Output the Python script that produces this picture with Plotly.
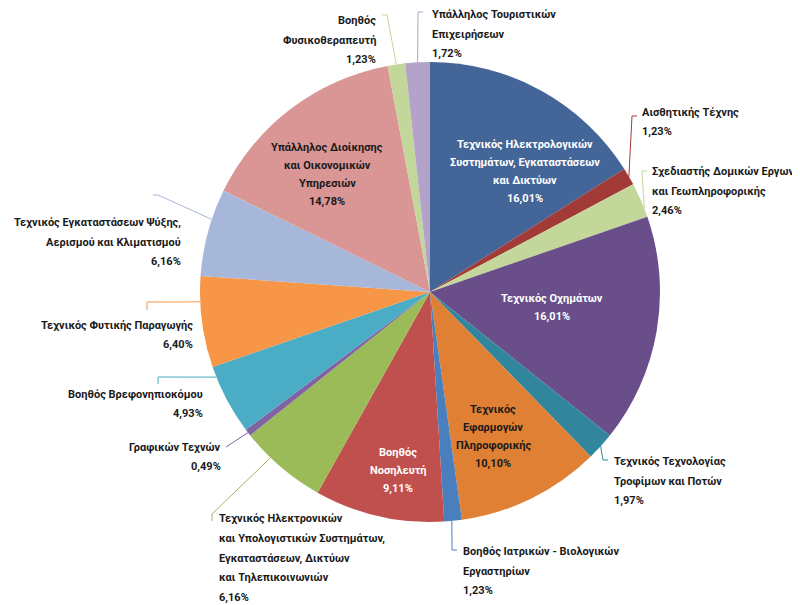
import math
import plotly.graph_objects as go

# ---- data ----
categories = [
    "Τεχνικός Ηλεκτρολογικών<br>Συστημάτων, Εγκαταστάσεων<br>και Δικτύων",
    "Αισθητικής Τέχνης",
    "Σχεδιαστής Δομικών Εργων<br>και Γεωπληροφορικής",
    "Τεχνικός Οχημάτων",
    "Τεχνικός Τεχνολογίας<br>Τροφίμων και Ποτών",
    "Τεχνικός<br>Εφαρμογών<br>Πληροφορικής",
    "Βοηθός Ιατρικών - Βιολογικών<br>Εργαστηρίων",
    "Βοηθός<br>Νοσηλευτή",
    "Τεχνικός Ηλεκτρονικών<br>και Υπολογιστικών Συστημάτων,<br>Εγκαταστάσεων, Δικτύων<br>και Τηλεπικοινωνιών",
    "Γραφικών Τεχνών",
    "Βοηθός Βρεφονηπιοκόμου",
    "Τεχνικός Φυτικής Παραγωγής",
    "Τεχνικός Εγκαταστάσεων Ψύξης,<br>Αερισμού και Κλιματισμού",
    "Υπάλληλος Διοίκησης<br>και Οικονομικών<br>Υπηρεσιών",
    "Βοηθός<br>Φυσικοθεραπευτή",
    "Υπάλληλος Τουριστικών<br>Επιχειρήσεων",
]
values = [16.01, 1.23, 2.46, 16.01, 1.97, 10.10, 1.23, 9.11,
          6.16, 0.49, 4.93, 6.40, 6.16, 14.78, 1.23, 1.72]

# ---- styles ----
colors = ["#436598", "#A23B37", "#C4D79B", "#6A4E8A", "#31869D", "#DF8034",
          "#4A7FBE", "#C0504D", "#9BBB59", "#8064A2", "#4BACC6", "#F79646",
          "#A7B7DA", "#D99695", "#C4D79B", "#B3A3C8"]

# page geometry (browser body has an 8px margin)
PAGE_W, PAGE_H, OFF = 800, 605, 8
W, H = PAGE_W - OFF, PAGE_H - OFF
CX, CY, R = 430, 292, 230
FONT = "Roboto, DejaVu Sans Condensed, sans-serif"
FS = 11
LS_IN, LS_OUT = 18, 19.6

# label layout: (mode, x, y, align, text colour, attach fraction, waypoints)
label_layout = [
    ("in", 525, 171, "center", "white", None, None),
    ("out", 640, 122, "left", "#1a1a1a", 0.5, [(632, 116), (637, 116)]),
    ("out", 650, 191, "left", "#1a1a1a", 0.75, [(642, 171), (647, 171)]),
    ("in", 552, 307, "center", "white", None, None),
    ("out", 612, 481, "left", "#1a1a1a", 0.5, [(603, 460), (608, 460)]),
    ("in", 493, 436, "center", "#1a1a1a", None, None),
    ("out", 461, 571, "left", "#1a1a1a", 0.57, [(452, 550), (457, 550)]),
    ("in", 398, 470, "center", "white", None, None),
    ("out", 217, 558, "left", "#1a1a1a", 0.66, [(212, 514), (212, 521)]),
    ("out", 223, 457, "right", "#1a1a1a", 0.5, [(226, 447)]),
    ("out", 205, 404, "right", "#1a1a1a", 0.85, [(158, 377), (158, 384)]),
    ("out", 195, 335, "right", "#1a1a1a", 0.72, [(147, 302), (147, 310)]),
    ("out", 183, 242, "right", "#1a1a1a", 0.65, [(158, 195), (153, 195)]),
    ("in", 327, 174, "center", "#1a1a1a", None, None),
    ("out", 378, 40, "right", "#1a1a1a", 0.5, [(387, 15), (382, 15)]),
    ("out", 430, 34, "left", "#1a1a1a", 0.5, [(418, 12), (423, 12)]),
]

total = sum(values)
fig = go.Figure()

fig.add_trace(go.Pie(
    values=values,
    labels=[c.replace("<br>", " ") for c in categories],
    marker=dict(colors=colors, line=dict(width=0)),
    sort=False, direction="clockwise", rotation=0,
    textinfo="none", hoverinfo="label+percent",
    domain=dict(x=[(CX - R - OFF) / W, (CX + R - OFF) / W],
                y=[1 - (CY + R - OFF) / H, 1 - (CY - R - OFF) / H]),
    showlegend=False,
))

annotations = []
cum = 0.0
for cat, v, col, lay in zip(categories, values, colors, label_layout):
    mode, lx, ly, align, tcol, frac, pts = lay
    pct = f"{v:.2f}".replace(".", ",") + "%"
    lines = cat.split("<br>") + [pct]
    ls = LS_IN if mode == "in" else LS_OUT
    y0 = ly - ls * (len(lines) - 1) / 2
    for k, t in enumerate(lines):
        annotations.append(dict(
            x=lx, y=y0 + k * ls, xref="x", yref="y", text=f"<b>{t}</b>",
            showarrow=False, align=align,
            xanchor={"left": "left", "right": "right", "center": "center"}[align],
            yanchor="middle", font=dict(family=FONT, size=FS, color=tcol),
        ))
    if mode == "out":
        ang = math.radians((cum + frac * v) / total * 360)
        sx = CX + R * math.sin(ang)
        sy = CY - R * math.cos(ang)
        xs = [sx] + [p[0] for p in pts]
        ys = [sy] + [p[1] for p in pts]
        fig.add_trace(go.Scatter(x=xs, y=ys, mode="lines",
                                 line=dict(color=col, width=1),
                                 hoverinfo="skip", showlegend=False))
    cum += v

fig.update_layout(
    width=W, height=H,
    margin=dict(l=0, r=0, t=0, b=0),
    paper_bgcolor="white", plot_bgcolor="rgba(0,0,0,0)",
    xaxis=dict(range=[OFF, PAGE_W], visible=False, fixedrange=True),
    yaxis=dict(range=[PAGE_H, OFF], visible=False, fixedrange=True),
    annotations=annotations,
    showlegend=False,
)

fig.write_html("out.html")
